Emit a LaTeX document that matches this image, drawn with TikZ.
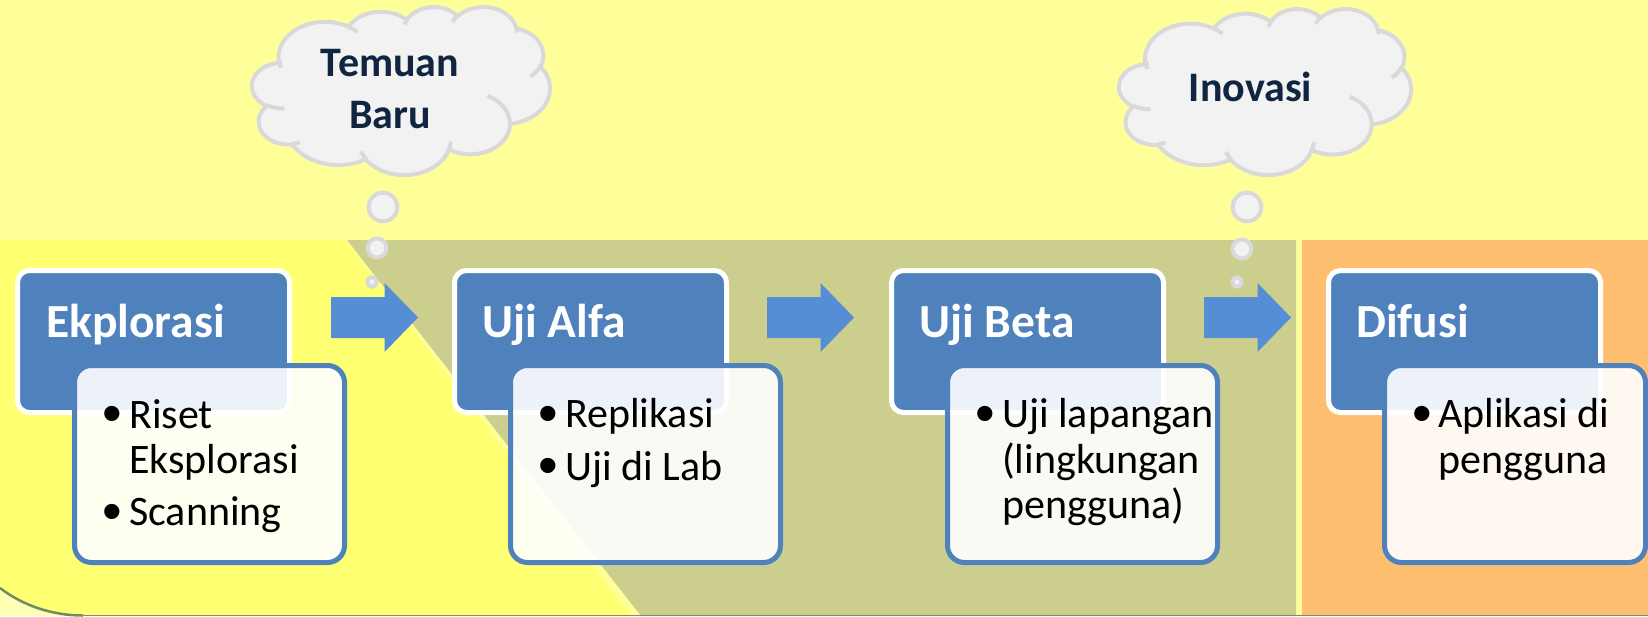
\documentclass[tikz,border=0pt]{standalone}
\usepackage{fontspec}
\setmainfont{Carlito}
\newfontfamily\bulfont{Liberation Sans}
\definecolor{topbg}{HTML}{FFFF99}
\definecolor{ybg}{HTML}{FFFF72}
\definecolor{olivebg}{HTML}{CBCE8C}
\definecolor{orangebg}{HTML}{FFBF71}
\definecolor{cornerbg}{HTML}{FFFFB4}
\definecolor{arcline}{HTML}{6E8A68}
\definecolor{bottomline}{HTML}{808A70}
\definecolor{hdrblue}{HTML}{4F81BD}
\definecolor{arrowblue}{HTML}{558ED5}
\definecolor{cloudfill}{HTML}{F2F2F2}
\definecolor{cloudline}{HTML}{D9D9D9}
\definecolor{cloudtext}{HTML}{10253F}
\newcommand\drawcloud[4]{%
\begin{scope}[shift={(#1,#2)}, x=1pt, y=1pt, xscale=#3/432, yscale=-#4/432]
\draw[cloudpath] (39.00,143.70)
 arc[start angle=-187.75, end angle=-59.64, x radius=67.53pt, y radius=91.90pt]
 arc[start angle=-151.98, end angle=-45.50, x radius=53.33pt, y radius=72.67pt]
 arc[start angle=-153.47, end angle=-37.36, x radius=43.65pt, y radius=59.45pt]
 arc[start angle=-139.76, end angle=-10.19, x radius=48.57pt, y radius=65.95pt]
 arc[start angle=-74.80, end angle=23.26, x radius=53.33pt, y radius=72.73pt]
 arc[start angle=-37.52, end angle=81.86, x radius=67.75pt, y radius=92.20pt]
 arc[start angle=0.46, end angle=122.00, x radius=57.85pt, y radius=78.67pt]
 arc[start angle=16.89, end angle=146.15, x radius=67.52pt, y radius=92.15pt]
 arc[start angle=59.08, end angle=150.09, x radius=77.20pt, y radius=105.43pt]
 arc[start angle=83.29, end angle=223.04, x radius=43.60pt, y radius=59.18pt]
 arc[start angle=120.21, end angle=264.14, x radius=43.45pt, y radius=59.45pt]
 -- cycle;
\draw[cloudinner] (46.93,261.77) arc[start angle=85.55, end angle=120.36, x radius=43.45pt, y radius=59.45pt];
\draw[cloudinner] (69.28,348.99) arc[start angle=68.23, end angle=83.31, x radius=43.60pt, y radius=59.18pt];
\draw[cloudinner] (164.78,390.90) arc[start angle=146.24, end angle=158.47, x radius=67.52pt, y radius=92.15pt];
\draw[cloudinner] (288.27,347.51) arc[start angle=4.74, end angle=16.84, x radius=67.52pt, y radius=92.15pt];
\draw[cloudinner] (341.29,229.54) arc[start angle=-64.03, end angle=0.46, x radius=57.85pt, y radius=78.67pt];
\draw[cloudinner] (417.98,153.54) arc[start angle=23.21, end angle=49.64, x radius=53.33pt, y radius=72.73pt];
\draw[cloudinner] (383.24,54.26) arc[start angle=-10.21, end angle=0.82, x radius=48.57pt, y radius=65.95pt];
\draw[cloudinner] (290.78,39.52) arc[start angle=-156.28, end angle=-139.71, x radius=48.57pt, y radius=65.95pt];
\draw[cloudinner] (221.41,47.20) arc[start angle=-167.73, end angle=-153.49, x radius=43.65pt, y radius=59.45pt];
\draw[cloudinner] (140.00,51.92) arc[start angle=-59.64, end angle=-45.75, x radius=67.53pt, y radius=91.90pt];
\draw[cloudinner] (41.27,157.89) arc[start angle=-188.12, end angle=-175.20, x radius=67.53pt, y radius=91.90pt];
\end{scope}}
\newcommand\blockarrow[1]{%
\fill[arrowblue] (#1,297) -- (#1+53.5,297) -- (#1+53.5,283) -- (#1+87,317.5)
  -- (#1+53.5,352) -- (#1+53.5,338) -- (#1,338) -- cycle;}
\begin{document}
\begin{tikzpicture}[x=1pt,y=-1pt,
  hdr/.style={draw=white, line width=5pt, fill=hdrblue, rounded corners=12pt,
    minimum width=272pt, minimum height=142pt, inner sep=0pt, outer sep=0pt},
  bodybox/.style={draw=hdrblue, line width=5pt, fill=white, fill opacity=0.9,
    draw opacity=1, rounded corners=17pt, minimum height=197pt, inner sep=0pt, outer sep=0pt},
  hdrtxt/.style={anchor=base west, inner sep=0pt, text=white,
    font=\fontsize{47.5}{55}\selectfont\bfseries},
  bodytxt/.style={anchor=base west, inner sep=0pt, text=black,
    font=\fontsize{42}{46}\selectfont},
  bul/.style={anchor=base, inner sep=0pt, text=black,
    font=\bulfont\fontsize{56}{60}\selectfont},
  cloudtxt/.style={anchor=base, inner sep=0pt, text=cloudtext,
    font=\fontsize{42}{50}\selectfont\bfseries},
  bubble/.style={draw=cloudline, fill=cloudfill, line width=4pt},
  cloudpath/.style={draw=cloudline, fill=cloudfill, line width=4pt, line join=round},
  cloudinner/.style={draw=cloudline, line width=4pt}
]
\useasboundingbox (0,0) rectangle (1648,616);
% backgrounds
\fill[topbg] (0,0) rectangle (1648,616);
\fill[cornerbg] (0,560) rectangle (90,616);
\fill[ybg] (0,240) -- (345,240) -- (631,616) -- (83,616)
  .. controls (53,616) and (23.9,606.2) .. (0,588) -- cycle;
\fill[olivebg] (347,240) -- (1296,240) -- (1296,616) -- (641,616) -- cycle;
\fill[orangebg] (1302,240) rectangle (1648,616);
\draw[arcline, line width=2.5pt] (83,615.5) .. controls (53,615.5) and (23.9,606.2) .. (0,588);
\draw[bottomline, line width=1pt] (80,615.5) -- (1648,615.5);
% block arrows
\blockarrow{331}
\blockarrow{767}
\blockarrow{1204}
% header boxes
\node[hdr] (h1) at (153.5,341.5) {};
\node[hdr] (h2) at (590.5,341.5) {};
\node[hdr] (h3) at (1027.5,341.5) {};
\node[hdr] (h4) at (1464.5,341.5) {};
\node[hdrtxt] (h1t) at (46,337) {Ekplorasi};
\node[hdrtxt] (h2t) at (482,337) {Uji Alfa};
\node[hdrtxt] (h3t) at (919,337) {Uji Beta};
\node[hdrtxt] (h4t) at (1356,337) {Difusi};
% body boxes
\node[bodybox, minimum width=270pt] (b1) at (209.5,464) {};
\node[bodybox, minimum width=270pt] (b2) at (645.5,464) {};
\node[bodybox, minimum width=270pt] (b3) at (1082.5,464) {};
\node[bodybox, minimum width=261pt] (b4) at (1515,464) {};
% body texts
\node[bul] (b1u1) at (112,432.5) {•};
\node[bodytxt] (b1l1) at (129,428) {Riset};
\node[bodytxt] (b1l2) at (129,473.5) {Eksplorasi};
\node[bul] (b1u2) at (112,530) {•};
\node[bodytxt] (b1l3) at (129,525.5) {Scanning};
\node[bul] (b2u1) at (548,432) {•};
\node[bodytxt] (b2l1) at (565,427.5) {Replikasi};
\node[bul] (b2u2) at (548,484.5) {•};
\node[bodytxt] (b2l2) at (565,480) {Uji di Lab};
\node[bul] (b3u1) at (985,432) {•};
\node[bodytxt] (b3l1) at (1002,427.5) {Uji lapangan};
\node[bodytxt] (b3l2) at (1002,473) {(lingkungan};
\node[bodytxt] (b3l3) at (1002,518.5) {pengguna)};
\node[bul] (b4u1) at (1422,432) {•};
\node[bodytxt] (b4l1) at (1438,427.5) {Aplikasi di};
\node[bodytxt] (b4l2) at (1438,473) {pengguna};
% thought bubbles
\draw[bubble] (383,207) circle[radius=14.3pt];
\draw[bubble] (377,248) circle[radius=9.5pt];
\draw[bubble] (372,282) circle[radius=4.8pt];
\draw[bubble] (1247,207) circle[radius=14.3pt];
\draw[bubble] (1242,249) circle[radius=9.5pt];
\draw[bubble] (1237,282) circle[radius=4.8pt];
% clouds
\drawcloud{252}{6.5}{298}{168}
\drawcloud{1119}{8.5}{292}{166}
\node[cloudtxt] (c1a) at (390,76) {Temuan};
\node[cloudtxt] (c1b) at (390,128) {Baru};
\node[cloudtxt] (c2) at (1250.5,101) {Inovasi};
\end{tikzpicture}
\end{document}
